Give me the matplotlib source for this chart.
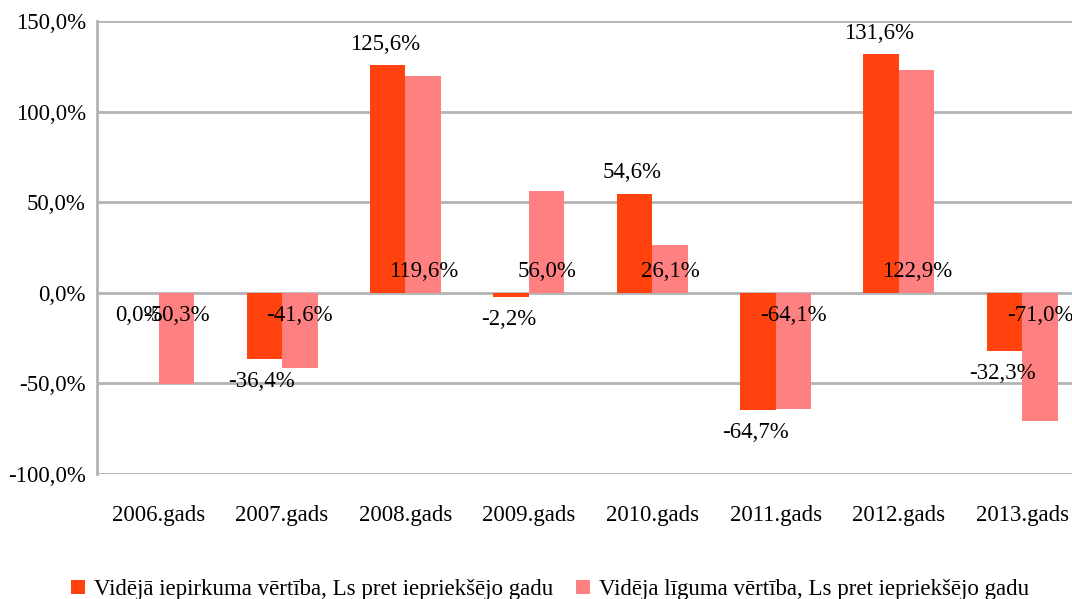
import numpy as np
import matplotlib.pyplot as plt
from matplotlib.ticker import FuncFormatter

plt.rcParams['font.family'] = ['Liberation Serif', 'DejaVu Serif']

years = ["2006.gads", "2007.gads", "2008.gads", "2009.gads",
         "2010.gads", "2011.gads", "2012.gads", "2013.gads"]
purchase = [0.0, -36.4, 125.6, -2.2, 54.6, -64.7, 131.6, -32.3]
contract = [-50.3, -41.6, 119.6, 56.0, 26.1, -64.1, 122.9, -71.0]
series_names = ["Vidējā iepirkuma vērtība, Ls pret iepriekšējo gadu",
                "Vidēja līguma vērtība, Ls pret iepriekšējo gadu"]
colors = ["#ff420e", "#ff8080"]


def pct(v):
    return f"{v:.1f}%".replace(".", ",")


def main():
    fig = plt.figure(figsize=(10.72, 5.99), dpi=100)
    ax = fig.add_axes([0.0905, 0.2087, 0.9207, 0.7563])

    x = np.arange(len(years))
    w = 0.288
    ax.bar(x - w / 2, purchase, w, color=colors[0], label=series_names[0], zorder=3)
    ax.bar(x + w / 2, contract, w, color=colors[1], label=series_names[1], zorder=3)

    # labels: first series at bar end, second series at baseline
    fs = 16.5
    for xi, v in zip(x, purchase):
        off = 11.5 if v > 0 else -12.5
        ax.text(xi - w / 2 - 0.02, v + off, pct(v), ha="center", va="center",
                fontsize=fs, zorder=4)
    for xi, v in zip(x, contract):
        off = 11.5 if v > 0 else -12.5
        ax.text(xi + w / 2, off, pct(v), ha="center", va="center",
                fontsize=fs, zorder=4)

    ax.set_ylim(-100, 150)
    ax.set_yticks(np.arange(-100, 151, 50))
    ax.yaxis.set_major_formatter(FuncFormatter(lambda v, _: pct(v)))
    ax.set_xlim(-0.5, len(years) - 0.5)
    ax.set_xticks(x)
    ax.set_xticklabels(years)
    ax.tick_params(axis="both", length=0, labelsize=fs)
    ax.tick_params(axis="y", pad=8)
    ax.tick_params(axis="x", pad=22)
    ax.grid(axis="y", color="#b3b3b3", linewidth=2, zorder=0)
    for s in ["top", "right", "bottom"]:
        ax.spines[s].set_visible(False)
    ax.spines["left"].set_color("#b3b3b3")
    ax.spines["left"].set_linewidth(2)

    fig.legend(loc="center", bbox_to_anchor=(0.513, 0.016), ncol=2, frameon=False,
               fontsize=fs, handlelength=0.6, handleheight=0.6, handletextpad=0.4,
               columnspacing=1.0)

    fig.savefig("out.png", dpi=100)


if __name__ == "__main__":
    main()
